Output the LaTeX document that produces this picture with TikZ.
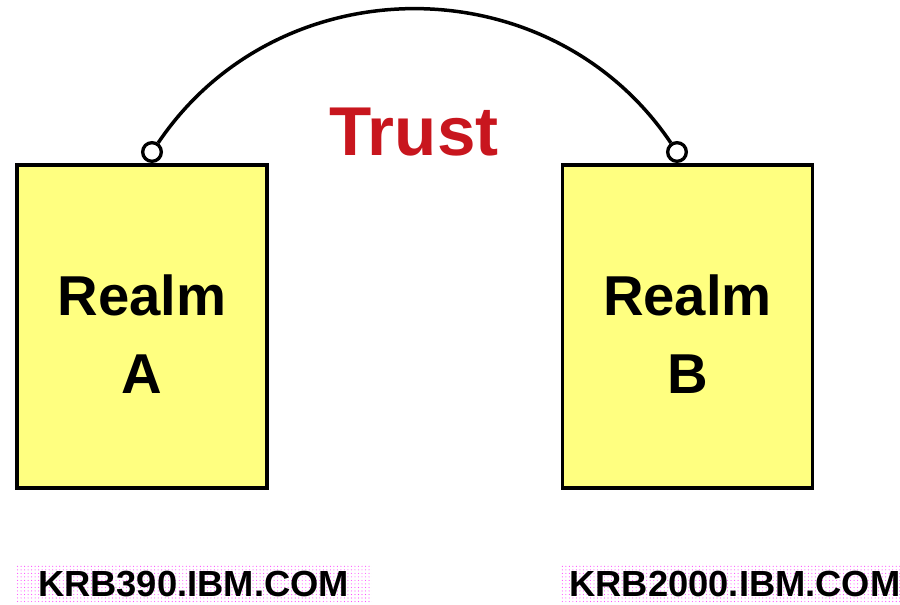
\documentclass[tikz,border=0pt]{standalone}
\usepackage{fontspec}
\setmainfont{Liberation Sans}
\usetikzlibrary{patterns}
\definecolor{realmfill}{RGB}{255,255,128}
\definecolor{trustred}{RGB}{200,22,30}

\tikzset{
  realm/.style={draw, line width=1mm, fill=realmfill, minimum width=75mm, minimum height=96.9mm},
  realmtext/.style={align=center, font=\fontsize{48}{66}\selectfont\bfseries},
  joint/.style={circle, draw, line width=1mm, fill=white, inner sep=0pt, minimum size=5.6mm},
  realmname/.style={pattern=dots, pattern color=magenta!70, font=\fontsize{31}{36}\selectfont\bfseries,
    inner sep=0pt, minimum height=11.4mm}
}

\begin{document}
\begin{tikzpicture}[x=0.3mm, y=-0.3mm]
    \useasboundingbox (0,0) rectangle (900,605);
    % the two realms
    \node[realm] (A) at (142,326.5) {};
    \node[realm] (B) at (687.5,326.5) {};
    \node[realmtext] (At) at (142,334) {Realm\\A};
    \node[realmtext] (Bt) at (687.5,334) {Realm\\B};
    % trust link between them
    \node[joint] (jA) at (152,152) {};
    \node[joint] (jB) at (677,152) {};
    \path[line width=1.05mm] (jA) edge[bend left=56, looseness=1.08] (jB);
    \node[text=trustred, font=\fontsize{59}{62}\selectfont\bfseries] (T) at (414,132) {Trust};
    % realm names
    \node[realmname, minimum width=107mm] (nA) at (193.5,584) {KRB390.IBM.COM};
    \node[realmname, minimum width=102mm] (nB) at (730,584) {\hspace*{3mm}KRB2000.IBM.COM};
  \end{tikzpicture}
\end{document}
